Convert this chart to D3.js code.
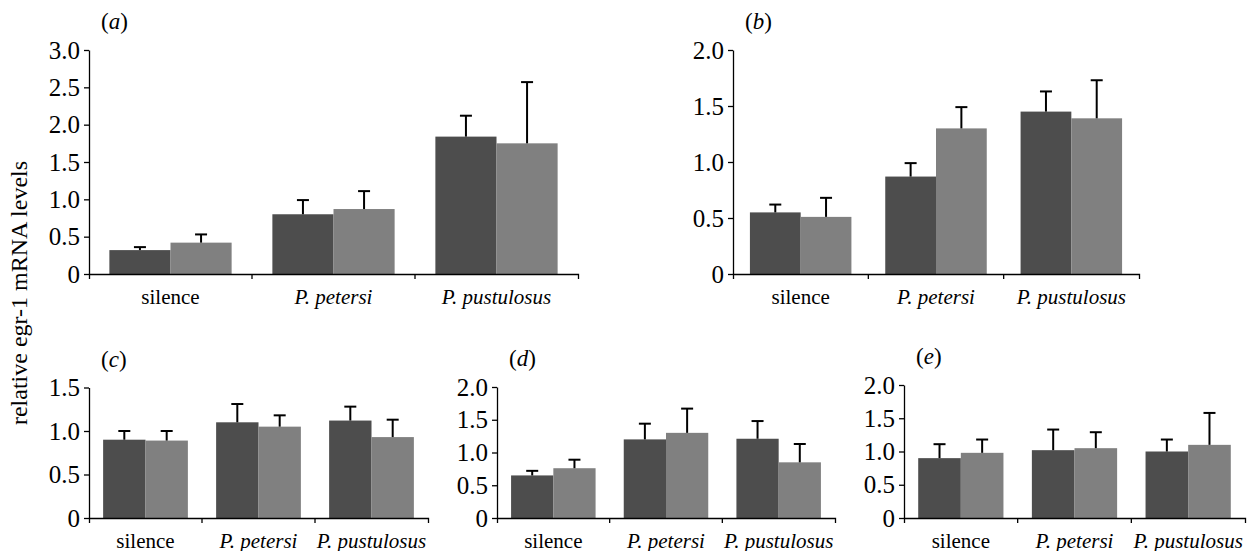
<!DOCTYPE html>
<html>
<head>
<meta charset="utf-8">
<script src="https://cdn.jsdelivr.net/npm/d3@7"></script>
<style>
  body { margin: 0; background: #fff; }
  svg { display: block; }
  svg text { font-family: "Liberation Serif", "DejaVu Serif", serif; fill: #000; }
</style>
</head>
<body>
<svg id="chart" width="1249" height="551"></svg>
<script>
const categories = ["silence", "P. petersi", "P. pustulosus"];
const series = ["dark", "light"];
const colors = { dark: "#4d4d4d", light: "#808080" };

// means and upper error, per panel
const aDark = [0.32, 0.80, 1.84], aDarkErr = [0.04, 0.19, 0.28];
const aLight = [0.42, 0.87, 1.75], aLightErr = [0.11, 0.24, 0.82];
const bDark = [0.55, 0.87, 1.45], bDarkErr = [0.07, 0.12, 0.18];
const bLight = [0.51, 1.30, 1.39], bLightErr = [0.17, 0.19, 0.34];
const cDark = [0.90, 1.10, 1.12], cDarkErr = [0.10, 0.21, 0.16];
const cLight = [0.89, 1.05, 0.93], cLightErr = [0.11, 0.13, 0.20];
const dDark = [0.65, 1.20, 1.21], dDarkErr = [0.07, 0.24, 0.27];
const dLight = [0.76, 1.30, 0.85], dLightErr = [0.13, 0.37, 0.28];
const eDark = [0.90, 1.02, 1.00], eDarkErr = [0.21, 0.31, 0.18];
const eLight = [0.98, 1.05, 1.10], eLightErr = [0.20, 0.24, 0.48];

const ticks30 = [0, 0.5, 1.0, 1.5, 2.0, 2.5, 3.0];
const ticks20 = [0, 0.5, 1.0, 1.5, 2.0];
const ticks15 = [0, 0.5, 1.0, 1.5];

const panels = [
  { id: "a", dark: aDark, darkErr: aDarkErr, light: aLight, lightErr: aLightErr, yMax: 3.0, ticks: ticks30,
    x: [89, 578], y: [274, 50] },
  { id: "b", dark: bDark, darkErr: bDarkErr, light: bLight, lightErr: bLightErr, yMax: 2.0, ticks: ticks20,
    x: [733, 1139], y: [274, 50] },
  { id: "c", dark: cDark, darkErr: cDarkErr, light: cLight, lightErr: cLightErr, yMax: 1.5, ticks: ticks15,
    x: [89, 428], y: [518, 387.5] },
  { id: "d", dark: dDark, darkErr: dDarkErr, light: dLight, lightErr: dLightErr, yMax: 2.0, ticks: ticks20,
    x: [497, 835], y: [518, 387] },
  { id: "e", dark: eDark, darkErr: eDarkErr, light: eLight, lightErr: eLightErr, yMax: 2.0, ticks: ticks20,
    x: [904, 1245], y: [518, 385] }
];

const svg = d3.select("#chart");
const fmt = d => d === 0 ? "0" : d3.format(".1f")(d);

panels.forEach(p => {
  const g = svg.append("g");

  const x0 = d3.scaleBand().domain(categories).range(p.x).padding(0);
  const pad = x0.bandwidth() * 0.125;
  const x1 = d3.scaleBand().domain(series).range([pad, x0.bandwidth() - pad]).padding(0);
  const y = d3.scaleLinear().domain([0, p.yMax]).range(p.y);

  const rows = [];
  categories.forEach((c, i) => {
    rows.push({ cat: c, s: "dark", v: p.dark[i], e: p.darkErr[i] });
    rows.push({ cat: c, s: "light", v: p.light[i], e: p.lightErr[i] });
  });

  // bars
  g.selectAll("rect.bar")
    .data(rows)
    .join("rect")
    .attr("class", "bar")
    .attr("x", d => x0(d.cat) + x1(d.s))
    .attr("width", x1.bandwidth())
    .attr("y", d => y(d.v))
    .attr("height", d => y(0) - y(d.v))
    .attr("fill", d => colors[d.s]);

  // upper error bars
  const cx = d => x0(d.cat) + x1(d.s) + x1.bandwidth() / 2;
  g.selectAll("line.err")
    .data(rows)
    .join("line")
    .attr("class", "err")
    .attr("x1", cx).attr("x2", cx)
    .attr("y1", d => y(d.v)).attr("y2", d => y(d.v + d.e))
    .attr("stroke", "#000").attr("stroke-width", 2);
  g.selectAll("line.cap")
    .data(rows)
    .join("line")
    .attr("class", "cap")
    .attr("x1", d => cx(d) - 6).attr("x2", d => cx(d) + 6)
    .attr("y1", d => y(d.v + d.e)).attr("y2", d => y(d.v + d.e))
    .attr("stroke", "#000").attr("stroke-width", 2);

  // y axis
  const yAxis = g.append("g")
    .attr("transform", `translate(${p.x[0]},0)`)
    .call(d3.axisLeft(y).tickValues(p.ticks).tickFormat(fmt).tickSize(5).tickSizeOuter(0).tickPadding(4));
  yAxis.attr("font-family", null).attr("font-size", null);
  yAxis.selectAll("text").style("font-size", "25px");
  yAxis.selectAll("path, line").attr("stroke", "#000").attr("stroke-width", 1.3);

  // x axis
  const xAxis = g.append("g")
    .attr("transform", `translate(0,${y(0)})`)
    .call(d3.axisBottom(x0).tickSize(0).tickSizeOuter(5).tickPadding(15));
  xAxis.attr("font-family", null).attr("font-size", null);
  xAxis.selectAll("text")
    .style("font-size", "21px")
    .style("font-style", d => d === "silence" ? "normal" : "italic");
  xAxis.selectAll("path").attr("stroke", "#000").attr("stroke-width", 1.3);
  xAxis.selectAll("line.bound")
    .data(categories.slice(1))
    .join("line")
    .attr("class", "bound")
    .attr("x1", d => x0(d)).attr("x2", d => x0(d))
    .attr("y1", 0).attr("y2", 5)
    .attr("stroke", "#000").attr("stroke-width", 1.3);

  // panel label
  const lab = g.append("text")
    .attr("x", p.x[0] + 12)
    .attr("y", p.y[1] - 21)
    .style("font-size", "23px");
  lab.append("tspan").text("(");
  lab.append("tspan").style("font-style", "italic").text(p.id);
  lab.append("tspan").text(")");
});

svg.append("text")
  .attr("transform", "translate(27,293) rotate(-90)")
  .attr("text-anchor", "middle")
  .style("font-size", "24px")
  .text("relative egr-1 mRNA levels");
</script>
</body>
</html>
